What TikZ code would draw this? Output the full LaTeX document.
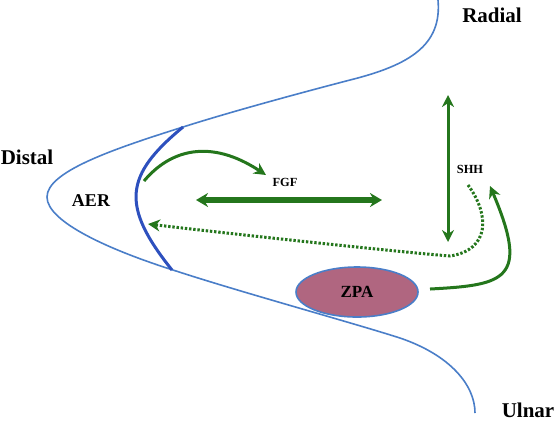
\documentclass[tikz,border=0pt]{standalone}
\usepackage{fontspec}
\setmainfont{Liberation Serif}
\usetikzlibrary{arrows.meta,shapes.geometric}
\definecolor{limbblue}{RGB}{74,126,200}
\definecolor{aerblue}{RGB}{45,80,190}
\definecolor{sig}{RGB}{36,118,28}
\definecolor{zpafill}{RGB}{176,102,128}
\tikzset{
  lbl/.style={font=\bfseries\fontsize{10.5}{12}\selectfont, inner sep=0pt},
  sml/.style={font=\bfseries\fontsize{6.2}{7}\selectfont, inner sep=0pt},
  sigarrow/.style={draw=sig, line width=1.5pt, -{Stealth[length=6pt,width=6pt]}},
}
\begin{document}
\begin{tikzpicture}[x=0.5pt,y=-0.5pt]
		\useasboundingbox (0,0) rectangle (555,420);
		
		% limb outline
		\draw[limbblue, line width=0.8pt] (438,0) .. controls (442,45) and (410,65) .. (350,80)
			.. controls (300,93) and (230,112) .. (183,127)
			.. controls (110,150) and (47,172) .. (47,197)
			.. controls (47,222) and (110,250) .. (173,270)
			.. controls (240,292) and (350,322) .. (400,338)
			.. controls (450,355) and (475,385) .. (475,413);
		
		% AER
		\draw[aerblue, line width=1.5pt] (183,127) .. controls (125,175) and (120,205) .. (172,270);
		
		% labels
		\node[lbl] (distal) at (27,157) {Distal};
		\node[lbl] (radial) at (492,15) {Radial};
		\node[lbl] (ulnar) at (528,410) {Ulnar};
		\node[lbl, font=\bfseries\fontsize{9}{10}\selectfont] (aer) at (91,201) {AER};
		\node[sml] (fgf) at (285,182) {FGF};
		\node[sml] (shh) at (470,169) {SHH};
		
		% ZPA
		\node[ellipse, draw=limbblue, fill=zpafill, line width=0.8pt, minimum width=61pt, minimum height=25pt, inner sep=0pt,
			font=\bfseries\fontsize{8.5}{10}\selectfont] (zpa) at (357,292) {ZPA};
		
		% signal ends
		\coordinate (fgfa) at (144,181);
		\coordinate (fgfb) at (266,175);
		\coordinate (lefta) at (196,200);
		\coordinate (leftb) at (382,200);
		\coordinate (upa) at (448,95);
		\coordinate (upb) at (448,242);
		\coordinate (dota) at (468,185);
		\coordinate (dotb) at (148,224);
		\coordinate (zpaout) at (430,289);
		\coordinate (shhin) at (490,186);
		
		% arrows
		\draw[sigarrow] (fgfa) .. controls (170,150) and (210,138) .. (fgfb);
		\draw[draw=sig, line width=3pt, {Stealth[length=6pt,width=7pt]}-{Stealth[length=6pt,width=7pt]}] (lefta) -- (leftb);
		\draw[sigarrow, {Stealth[length=6pt,width=6pt]}-{Stealth[length=6pt,width=6pt]}] (upa) -- (upb);
		\draw[draw=sig, line width=1.5pt, dash pattern=on 1.2pt off 0.9pt, -{Stealth[length=6pt,width=6pt]}] (dota) .. controls (490,215) and (490,250) .. (450,256)
			.. controls (400,252) and (250,236) .. (dotb);
		\draw[sigarrow] (zpaout) .. controls (505,285) and (530,280) .. (shhin);
	\end{tikzpicture}
\end{document}
